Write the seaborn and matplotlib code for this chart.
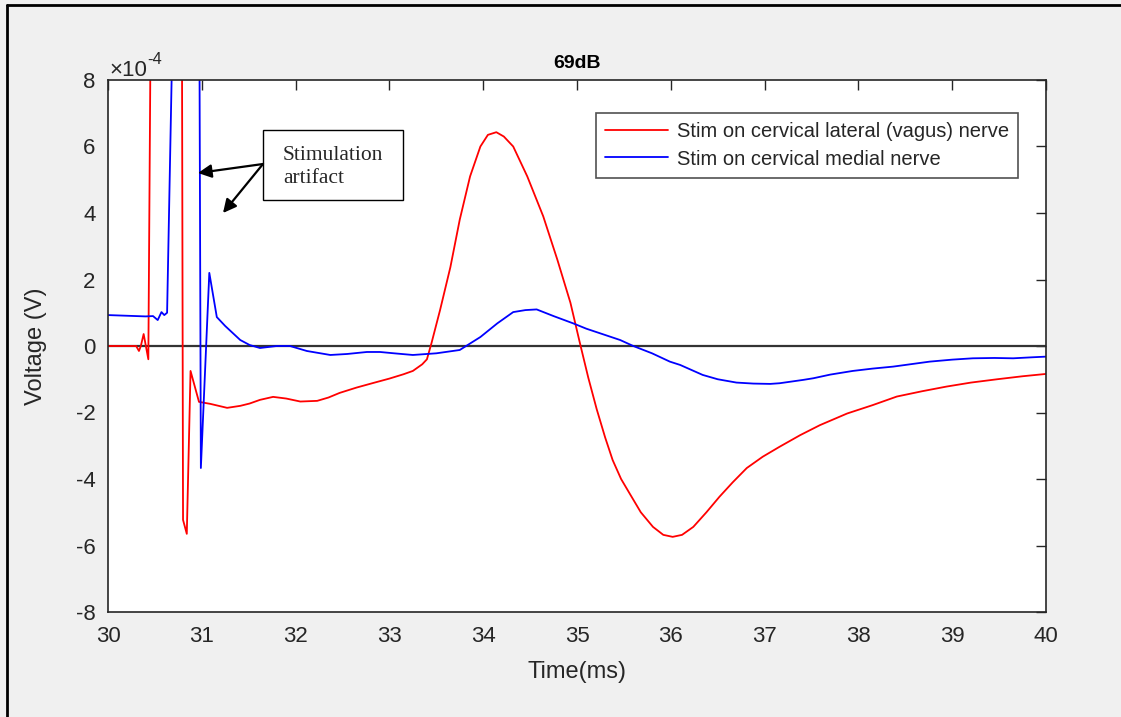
import numpy as np
import pandas as pd
import seaborn as sns
import matplotlib.pyplot as plt
from matplotlib.lines import Line2D
from matplotlib.ticker import FuncFormatter

# values, voltage in units of 1e-4 V
# spike tops go off the axis (clipped at 8e-4)
t_lateral = [30.00, 30.10, 30.20, 30.30, 30.33, 30.35, 30.38, 30.43, 30.48, 30.78,
             30.80, 30.84, 30.88, 30.97, 31.09, 31.27, 31.41, 31.51, 31.62, 31.76,
             31.90, 32.05, 32.23, 32.35, 32.47, 32.65, 32.83, 33.00, 33.15, 33.25,
             33.35, 33.40, 33.45, 33.54, 33.65, 33.75, 33.86, 33.97, 34.05, 34.14,
             34.22, 34.32, 34.47, 34.64, 34.79, 34.93, 35.03, 35.12, 35.21, 35.30,
             35.38, 35.47, 35.56, 35.68, 35.81, 35.92, 36.02, 36.12, 36.24, 36.38,
             36.52, 36.66, 36.81, 36.98, 37.16, 37.38, 37.59, 37.88, 38.15, 38.41,
             38.68, 38.94, 39.20, 39.48, 39.75, 40.00]
v_lateral = [0.00, 0.00, 0.00, 0.00, -0.15, 0.00, 0.36, -0.40, 20.0, 20.0,
             -5.23, -5.65, -0.75, -1.68, -1.74, -1.86, -1.80, -1.73, -1.62, -1.53,
             -1.58, -1.67, -1.65, -1.55, -1.41, -1.25, -1.11, -0.98, -0.85, -0.75,
             -0.55, -0.40, 0.10, 1.08, 2.37, 3.80, 5.10, 6.00, 6.35, 6.43,
             6.30, 6.00, 5.10, 3.90, 2.60, 1.30, 0.10, -0.95, -1.90, -2.75,
             -3.43, -4.00, -4.43, -5.00, -5.44, -5.68, -5.74, -5.68, -5.44, -5.00,
             -4.53, -4.10, -3.67, -3.33, -3.03, -2.68, -2.38, -2.03, -1.78, -1.52,
             -1.36, -1.22, -1.10, -1.00, -0.91, -0.84]

t_medial = [30.00, 30.20, 30.40, 30.48, 30.53, 30.57, 30.60, 30.63, 30.685, 30.975,
            30.99, 31.08, 31.16, 31.25, 31.41, 31.51, 31.62, 31.80, 31.94, 32.12,
            32.37, 32.55, 32.76, 32.90, 33.05, 33.25, 33.50, 33.75, 33.97, 34.15,
            34.32, 34.45, 34.57, 34.75, 34.96, 35.10, 35.28, 35.46, 35.60, 35.80,
            35.99, 36.10, 36.34, 36.50, 36.70, 36.88, 37.06, 37.16, 37.41, 37.52,
            37.70, 37.94, 38.15, 38.37, 38.76, 39.00, 39.22, 39.45, 39.65, 39.85,
            40.00]
v_medial = [0.93, 0.91, 0.89, 0.90, 0.78, 1.02, 0.93, 1.00, 9.0, 9.0,
            -3.67, 2.20, 0.87, 0.60, 0.18, 0.03, -0.06, 0.00, 0.00, -0.15,
            -0.27, -0.24, -0.18, -0.18, -0.22, -0.27, -0.22, -0.12, 0.27, 0.68,
            1.02, 1.08, 1.10, 0.90, 0.68, 0.52, 0.35, 0.18, 0.00, -0.22,
            -0.47, -0.57, -0.87, -1.00, -1.10, -1.13, -1.14, -1.12, -1.02, -0.97,
            -0.86, -0.75, -0.68, -0.62, -0.47, -0.41, -0.37, -0.36, -0.37, -0.34,
            -0.32]

labels = ["Stim on cervical lateral (vagus) nerve", "Stim on cervical medial nerve"]

df = pd.concat([
    pd.DataFrame({"t": t_lateral, "v": np.array(v_lateral) * 1e-4, "stim": labels[0]}),
    pd.DataFrame({"t": t_medial, "v": np.array(v_medial) * 1e-4, "stim": labels[1]}),
])

sns.set_style("white")
plt.rcParams["font.family"] = ["Liberation Sans", "DejaVu Sans"]
plt.rcParams["axes.unicode_minus"] = False

grey = "#262626"
fig = plt.figure(figsize=(11.21, 7.17), dpi=100, facecolor="#f0f0f0")
ax = fig.add_axes([108 / 1121, 1 - 612 / 717, 938 / 1121, 532 / 717])
ax.set_facecolor("white")

ax.axhline(0, color="#333333", lw=1.6, zorder=1)
sns.lineplot(data=df, x="t", y="v", hue="stim", palette=["#ff0000", "#0000ff"],
             estimator=None, sort=False, lw=1.3, ax=ax, zorder=2)

ax.set_xlim(30, 40)
ax.set_ylim(-8e-4, 8e-4)
ax.set_xticks(np.arange(30, 41, 1))
ax.set_yticks(np.arange(-8, 9, 2) * 1e-4)
ax.yaxis.set_major_formatter(FuncFormatter(lambda v, p: f"{v / 1e-4:.0f}"))

# exponent label, MATLAB style
fig.text(109 / 1121, 1 - 76 / 717, "\u00d710", fontsize=16, color=grey, va="baseline")
fig.text(147 / 1121, 1 - 64 / 717, "-4", fontsize=12, color=grey, va="baseline")

ax.tick_params(direction="in", length=7, width=1, colors=grey, labelsize=16,
               top=True, right=True)
ax.tick_params(axis="x", pad=10)
ax.tick_params(axis="y", pad=9)
for s in ax.spines.values():
    s.set_color(grey)
    s.set_linewidth(1.2)

ax.set_title("69dB", fontsize=14, fontweight="bold", color="black", pad=9)
ax.set_xlabel("Time(ms)", fontsize=17, color=grey, labelpad=10)
ax.set_ylabel("Voltage (V)", fontsize=17, color=grey, labelpad=21)

leg = ax.legend(loc="upper right", bbox_to_anchor=(1018 / 1121, 1 - 113 / 717),
                bbox_transform=fig.transFigure, fontsize=14.5, frameon=True,
                fancybox=False, edgecolor=grey, handlelength=3.1, borderpad=0.45,
                labelspacing=0.42, handletextpad=0.45, borderaxespad=0)
leg.get_frame().set_linewidth(1.2)

# annotation box with two arrows
for txt, by in [("Stimulation", 160), ("artifact", 183)]:
    fig.text(283 / 1121, 1 - by / 717, txt, family="Liberation Serif", fontsize=15.5,
             va="baseline", ha="left")
fig.patches.append(plt.Rectangle((263 / 1121, 1 - 200 / 717), 140 / 1121, 70 / 717,
                                 transform=fig.transFigure, fill=False, ec="black", lw=1))
for hx, hy in [(198, 173), (223, 213)]:
    ax.annotate("", xy=(hx / 1121, 1 - hy / 717), xytext=(263 / 1121, 1 - 164 / 717),
                xycoords="figure fraction", textcoords="figure fraction",
                arrowprops=dict(arrowstyle="-|>", color="black", lw=1.6,
                                mutation_scale=20, shrinkA=0, shrinkB=0))

# outer frame (left and top edges)
fig.add_artist(Line2D([7 / 1121, 7 / 1121], [0, 1 - 5 / 717], color="black", lw=2,
                      transform=fig.transFigure))
fig.add_artist(Line2D([7 / 1121, 1], [1 - 5 / 717, 1 - 5 / 717], color="black", lw=2,
                      transform=fig.transFigure))

fig.savefig("out.png", dpi=100, facecolor=fig.get_facecolor())
